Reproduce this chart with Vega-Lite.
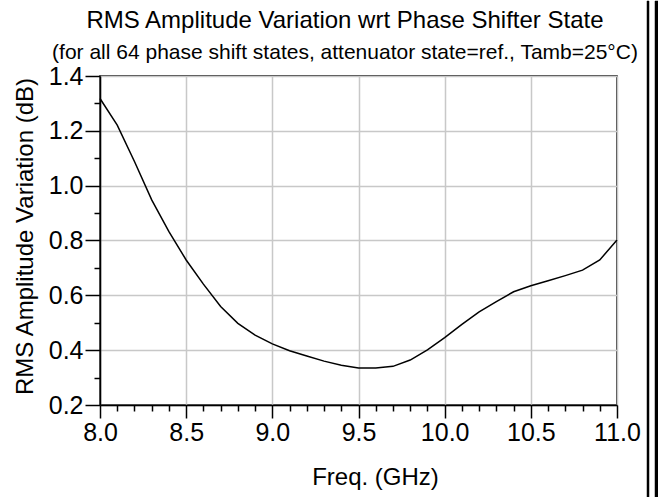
{
  "$schema": "https://vega.github.io/schema/vega-lite/v6.json",
  "padding": {"left": 12, "top": 0, "right": 0, "bottom": 0},
  "spacing": 3,
  "config": {"font": "Liberation Sans", "background": "white"},
  "hconcat": [
    {
      "spacing": 0,
      "vconcat": [
        {
          "width": 490,
          "height": 40,
          "view": {"stroke": null},
          "data": {"values": [{"t": "RMS Amplitude Variation wrt Phase Shifter State"}]},
          "mark": {"type": "text", "font": "Liberation Sans", "fontSize": 24, "color": "black", "baseline": "middle", "align": "center"},
          "encoding": {"text": {"field": "t", "type": "nominal"}}
        },
        {
          "width": 490,
          "height": 19,
          "view": {"stroke": null},
          "data": {"values": [{"t": "(for all 64 phase shift states, attenuator state=ref., Tamb=25°C)"}]},
          "mark": {"type": "text", "font": "Liberation Sans", "fontSize": 21, "color": "black", "baseline": "middle", "align": "center"},
          "encoding": {"text": {"field": "t", "type": "nominal"}}
        },
        {
          "width": 517,
          "height": 329,
          "view": {"stroke": "black", "strokeWidth": 1.5},
          "data": {"values": [
            {"f": 8.0, "v": 1.318},
            {"f": 8.1, "v": 1.221},
            {"f": 8.2, "v": 1.088},
            {"f": 8.3, "v": 0.948},
            {"f": 8.4, "v": 0.832},
            {"f": 8.5, "v": 0.729},
            {"f": 8.6, "v": 0.641},
            {"f": 8.7, "v": 0.559},
            {"f": 8.8, "v": 0.498},
            {"f": 8.9, "v": 0.455},
            {"f": 9.0, "v": 0.423},
            {"f": 9.1, "v": 0.398},
            {"f": 9.2, "v": 0.379},
            {"f": 9.3, "v": 0.360},
            {"f": 9.4, "v": 0.345},
            {"f": 9.5, "v": 0.335},
            {"f": 9.6, "v": 0.335},
            {"f": 9.7, "v": 0.341},
            {"f": 9.8, "v": 0.364},
            {"f": 9.9, "v": 0.401},
            {"f": 10.0, "v": 0.446},
            {"f": 10.1, "v": 0.494},
            {"f": 10.2, "v": 0.540},
            {"f": 10.3, "v": 0.577},
            {"f": 10.4, "v": 0.613},
            {"f": 10.5, "v": 0.635},
            {"f": 10.6, "v": 0.653},
            {"f": 10.7, "v": 0.672},
            {"f": 10.8, "v": 0.692},
            {"f": 10.9, "v": 0.729},
            {"f": 11.0, "v": 0.802}
          ]},
          "resolve": {"axis": {"x": "independent", "y": "independent"}},
          "layer": [
            {
              "mark": {"type": "line", "color": "black", "strokeWidth": 1.5, "opacity": 0},
              "encoding": {
                "x": {"field": "f", "type": "quantitative", "scale": {"domain": [8, 11], "nice": false, "zero": false},
                  "axis": {"orient": "bottom", "values": [8.1, 8.2, 8.3, 8.4, 8.6, 8.7, 8.8, 8.9, 9.1, 9.2, 9.3, 9.4, 9.6, 9.7, 9.8, 9.9, 10.1, 10.2, 10.3, 10.4, 10.6, 10.7, 10.8, 10.9],
                    "labels": false, "domain": false, "grid": false, "title": null, "tickSize": 6, "tickColor": "black", "tickWidth": 1.5}},
                "y": {"field": "v", "type": "quantitative", "scale": {"domain": [0.2, 1.4], "nice": false, "zero": false},
                  "axis": {"orient": "left", "values": [0.3, 0.5, 0.7, 0.9, 1.1, 1.3],
                    "labels": false, "domain": false, "grid": false, "title": null, "tickSize": 6, "tickColor": "black", "tickWidth": 1.5}}
              }
            },
            {
              "mark": {"type": "line", "color": "black", "strokeWidth": 1.5},
              "encoding": {
                "x": {"field": "f", "type": "quantitative", "scale": {"domain": [8, 11], "nice": false, "zero": false},
                  "axis": {"orient": "bottom", "values": [8, 8.5, 9, 9.5, 10, 10.5, 11], "format": ".1f",
                    "grid": true, "gridColor": "#c8c8c8", "gridWidth": 1.5, "gridOpacity": 1,
                    "domainColor": "black", "domainWidth": 1.5,
                    "tickColor": "black", "tickWidth": 1.5, "tickSize": 13,
                    "labelFontSize": 25, "labelColor": "black", "labelPadding": 2, "labelFlush": false, "labelOverlap": false,
                    "title": "Freq. (GHz)", "titleFontSize": 24, "titleFontWeight": "normal", "titleColor": "black",
                    "titlePadding": 20, "titleX": 275}},
                "y": {"field": "v", "type": "quantitative", "scale": {"domain": [0.2, 1.4], "nice": false, "zero": false},
                  "axis": {"orient": "left", "values": [0.2, 0.4, 0.6, 0.8, 1.0, 1.2, 1.4], "format": ".1f",
                    "grid": true, "gridColor": "#c8c8c8", "gridWidth": 1.5, "gridOpacity": 1,
                    "domainColor": "black", "domainWidth": 1.5,
                    "tickColor": "black", "tickWidth": 1.5, "tickSize": 15,
                    "labelFontSize": 25, "labelColor": "black", "labelPadding": 2, "labelFlush": false, "labelOverlap": false,
                    "title": "RMS Amplitude Variation (dB)", "titleFontSize": 24, "titleFontWeight": "normal", "titleColor": "black",
                    "titlePadding": 11, "titleY": 160}}
              }
            }
          ]
        }
      ]
    },
    {
      "width": 2,
      "height": 497,
      "view": {"fill": "black", "fillOpacity": 1, "stroke": "black", "strokeWidth": 0.5},
      "data": {"values": [{"a": 1}]},
      "mark": {"type": "point", "opacity": 0},
      "encoding": {}
    },
    {
      "width": 8,
      "height": 497,
      "view": {"fill": "black", "fillOpacity": 1, "stroke": "black", "strokeWidth": 0.5},
      "data": {"values": [{"a": 1}]},
      "mark": {"type": "point", "opacity": 0},
      "encoding": {}
    }
  ]
}
